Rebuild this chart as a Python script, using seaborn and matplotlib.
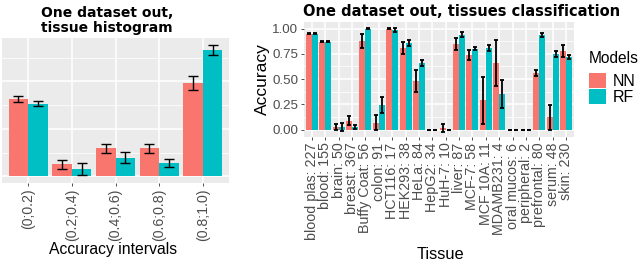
import pandas as pd
import seaborn as sns
import matplotlib.pyplot as plt
from matplotlib.patches import Patch
from matplotlib.ticker import MultipleLocator

# Left panel: share of tissues per accuracy interval
intervals = ["(0;0.2)", "(0.2;0.4)", "(0.4;0.6)", "(0.6;0.8)", "(0.8;1.0)"]
hist_nn = [0.326, 0.050, 0.118, 0.118, 0.393]
hist_rf = [0.306, 0.032, 0.078, 0.056, 0.533]
hist_nn_err = [0.012, 0.021, 0.020, 0.019, 0.029]
hist_rf_err = [0.010, 0.026, 0.023, 0.016, 0.022]

# Right panel: accuracy per tissue
tissues = ["blood plas: 227", "blood: 155", "brain: 50", "breast: 367",
           "Buffy Coat: 56", "colon: 91", "HCT116: 17", "HEK293: 38",
           "HeLa: 84", "HepG2: 34", "HuH-7: 10", "liver: 87", "MCF-7: 58",
           "MCF 10A: 11", "MDAMB231: 4", "oral mucos: 6", "peripheral: 2",
           "prefrontal: 80", "serum: 48", "skin: 230"]
acc_nn = [0.95, 0.87, 0.03, 0.09, 0.88, 0.07, 1.00, 0.81, 0.48, 0.00,
          0.02, 0.85, 0.74, 0.29, 0.66, 0.00, 0.00, 0.56, 0.12, 0.78]
acc_rf = [0.95, 0.87, 0.03, 0.03, 1.00, 0.24, 0.99, 0.86, 0.66, 0.00,
          0.00, 0.94, 0.80, 0.81, 0.35, 0.00, 0.00, 0.94, 0.745, 0.72]
acc_nn_err = [0.005, 0.005, 0.03, 0.04, 0.07, 0.07, 0.005, 0.06, 0.11, 0.0,
              0.04, 0.06, 0.05, 0.23, 0.23, 0.0, 0.0, 0.03, 0.12, 0.06]
acc_rf_err = [0.005, 0.005, 0.04, 0.02, 0.005, 0.08, 0.02, 0.03, 0.03, 0.0,
              0.0, 0.025, 0.015, 0.03, 0.14, 0.0, 0.0, 0.02, 0.03, 0.02]

models = ["NN", "RF"]
colors = {"NN": "#F8766D", "RF": "#00BFC4"}

hist_df = pd.DataFrame({
    "interval": intervals * 2,
    "value": hist_nn + hist_rf,
    "Models": ["NN"] * len(intervals) + ["RF"] * len(intervals),
})
tis_df = pd.DataFrame({
    "tissue": tissues * 2,
    "value": acc_nn + acc_rf,
    "Models": ["NN"] * len(tissues) + ["RF"] * len(tissues),
})

plt.rcParams['font.family'] = ['Liberation Sans', 'DejaVu Sans']

fig = plt.figure(figsize=(6.4, 2.64), dpi=100)
W, H = 640, 264
ax1 = fig.add_axes([2 / W, 1 - 183 / H, 227 / W, 145 / H])
ax2 = fig.add_axes([304 / W, 1 - 137 / H, 270 / W, 115 / H])

sns.barplot(data=hist_df, x="interval", y="value", hue="Models", palette=colors,
            width=0.9, gap=0, saturation=1, errorbar=None, ax=ax1, legend=False,
            zorder=2)
sns.barplot(data=tis_df, x="tissue", y="value", hue="Models", palette=colors,
            width=0.9, gap=0, saturation=1, errorbar=None, ax=ax2, legend=False,
            zorder=2)

# error bars placed at the centres of the drawn bars
for ax, errs, cap, lw in [(ax1, [hist_nn_err, hist_rf_err], 3.5, 1.0),
                          (ax2, [acc_nn_err, acc_rf_err], 1.5, 1.3)]:
    for cont, err in zip(ax.containers, errs):
        xs = [p.get_x() + p.get_width() / 2 for p in cont]
        ys = [p.get_height() for p in cont]
        ax.errorbar(xs, ys, yerr=err, fmt="none", ecolor="black", elinewidth=lw,
                    capsize=cap, capthick=lw, zorder=3)

for ax in (ax1, ax2):
    ax.set_facecolor("#EBEBEB")
    for s in ax.spines.values():
        s.set_visible(False)
    ax.grid(which="major", color="white", linewidth=1.1, zorder=0)
    ax.grid(which="minor", axis="y", color="white", linewidth=0.55, zorder=0)
    ax.set_axisbelow(True)
    ax.tick_params(axis="x", which="major", length=2.5, width=0.6, color="#333333",
                   labelcolor="#4D4D4D", rotation=90, pad=1.5)
    ax.tick_params(axis="y", which="minor", length=0)

ax1.set_xlim(-0.6, len(intervals) - 0.4)
ax1.set_ylim(-0.028, 0.583)
ax1.yaxis.set_major_locator(MultipleLocator(0.2))
ax1.yaxis.set_minor_locator(MultipleLocator(0.1))
ax1.tick_params(axis="y", which="both", length=0, labelleft=False)
ax1.tick_params(axis="x", labelsize=10.2)
ax1.set_xlabel("Accuracy intervals", fontsize=11.3, va="top")
ax1.xaxis.set_label_coords(0.49, -0.405)
ax1.set_ylabel("")
ax1.set_title("One dataset out,\ntissue histogram", fontsize=10,
              fontweight="bold", family="DejaVu Sans", pad=4, linespacing=1.1,
              x=0.463)

ax2.set_xlim(-0.6, len(tissues) - 0.4)
ax2.set_ylim(-0.073, 1.065)
ax2.yaxis.set_minor_locator(MultipleLocator(0.125))
ax2.set_yticks([0, 0.25, 0.5, 0.75, 1.0])
ax2.set_yticklabels(["0.00", "0.25", "0.50", "0.75", "1.00"])
ax2.tick_params(axis="y", which="major", length=2.5, width=0.6, color="#333333",
                labelcolor="#4D4D4D", labelsize=9.6, pad=1.5)
ax2.tick_params(axis="x", labelsize=10.3)
ax2.set_xlabel("Tissue", fontsize=11.8, va="top")
ax2.xaxis.set_label_coords(0.504, -0.955)
ax2.set_ylabel("Accuracy", fontsize=12.5, labelpad=2)
ax2.set_title("One dataset out, tissues classification", fontsize=10.5,
              fontweight="bold", family="DejaVu Sans", pad=4, x=0.585)

# legend: title as its own text, keys stacked without gaps
fig.text(589 / W, 1 - 51 / H, "Models", fontsize=11.2, va="top", ha="left")
handles = [Patch(facecolor=colors[m], edgecolor="none") for m in models]
fig.legend(handles, models, loc="upper left",
           bbox_to_anchor=(589 / W, 1 - 73 / H), frameon=False, fontsize=11.5,
           handlelength=1.06, handleheight=1.06, handletextpad=0.4,
           labelspacing=0.0, borderaxespad=0, borderpad=0)

fig.savefig("out.png", dpi=100)
